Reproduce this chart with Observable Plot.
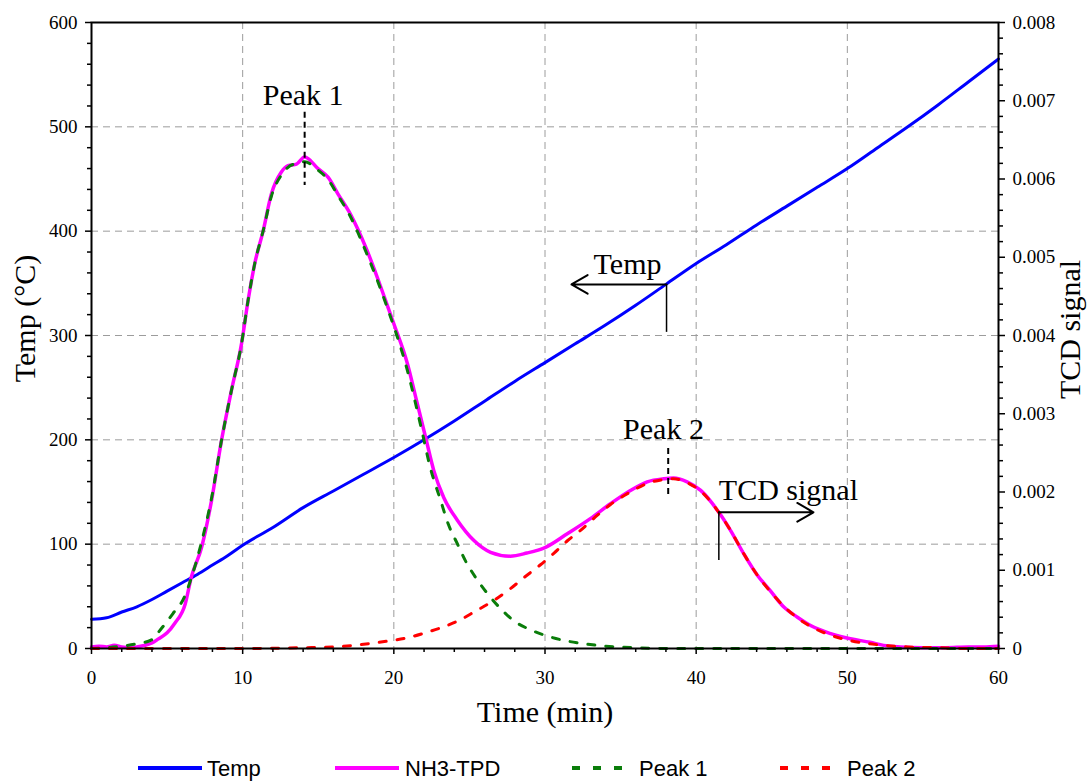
<!DOCTYPE html>
<html>
<head>
<meta charset="utf-8">
<script src="https://cdn.jsdelivr.net/npm/d3@7"></script>
<script src="https://cdn.jsdelivr.net/npm/@observablehq/plot@0.6"></script>
<style>
  html, body { margin: 0; padding: 0; background: #fff; overflow: hidden; }
  #chart svg, #legend svg { display: block; }
</style>
</head>
<body>
<div id="chart"></div>
<div id="legend"></div>
<script>
// Furnace temperature ramp (°C) against time (min)
const tempTime = [0, 1, 2, 3, 4, 5, 6, 7, 8, 9, 10, 12, 14, 16, 18, 20, 22, 24, 26, 28, 30,
  32, 34, 36, 38, 40, 42, 44, 46, 48, 50, 52, 54, 56, 58, 60];
const tempC = [28, 29.5, 35, 40, 47, 55, 63, 71, 80, 89, 99, 116, 135, 151, 167, 183, 200, 218, 237, 256, 274,
  292, 310, 329, 349, 369, 387, 406, 424, 442, 460, 480, 500, 521, 543, 565];

// Measured NH3-TPD TCD signal
const tpdTime = [0, 0.5, 1, 1.5, 2, 2.5, 3, 3.5, 4, 4.4, 5, 5.5, 6.2, 6.6, 7.28, 7.94, 8.6, 9.26, 9.92,
  10.36, 10.8, 11.36, 11.9, 12.56, 13, 13.56, 14.1, 15, 15.66, 16.3, 17.1, 18.2, 19.45, 20, 20.9, 21.5,
  22.1, 22.65, 23.3, 24.2, 25.3, 26.4, 27.7, 28.8, 30, 31.5, 33, 34.33, 35.65, 36.76, 37.86, 38.5, 39.4,
  40.3, 41.5, 42.27, 43.15, 44, 44.9, 45.8, 46.7, 47.6, 48.9, 50.2, 51.5, 52.4, 53.5, 55, 56.5, 58, 59, 60];
const tpdSignal = [0.00002, 0.00003, 0.00002, 0.00004, 0.00002, 0.00001, 0.00002, 0.00004, 0.00007, 0.00012,
  0.0002, 0.00032, 0.00057, 0.00091, 0.00129, 0.00189, 0.00266, 0.0033, 0.00389,
  0.00445, 0.00492, 0.00534, 0.00581, 0.00609, 0.00617, 0.00619, 0.00628, 0.00613, 0.00602, 0.00581, 0.00556,
  0.0051, 0.00445, 0.00415, 0.00364, 0.00317,
  0.0027, 0.00227, 0.00193, 0.00164, 0.00138, 0.00123, 0.00118, 0.00122, 0.00129, 0.00147, 0.00166, 0.00185,
  0.00202, 0.00213, 0.00217, 0.00218, 0.00213,
  0.00202, 0.00174, 0.00151, 0.00121, 0.00095, 0.00074, 0.00053, 0.0004, 0.00029, 0.00019, 0.000124, 0.00008,
  0.00004, 0.00002, 0.00001, 0.00001, 0.00002, 0.00002, 0.00003];

// Deconvoluted low-temperature peak
const peak1Time = [0, 1, 2, 3, 3.97, 4.56, 5.4, 6.15, 6.6, 7.28, 7.94, 8.6, 9.26, 9.92, 10.36, 10.8, 11.36,
  11.9, 12.56, 13, 13.56, 14.1, 15, 15.66, 16.3, 17.1, 18.2, 19.56, 20.9, 21.8, 22.4, 23.1, 23.6, 24.2,
  24.74, 25.4, 26.2, 27.06, 27.9, 29.15, 30.25, 31.5, 32.6, 34, 36, 38, 45, 52, 60];
const peak1Signal = [0, 0.00001, 0.00003, 0.00006, 0.00011, 0.00024, 0.00045, 0.00066, 0.0009, 0.00136,
  0.00192, 0.00266, 0.0033, 0.00389, 0.00445, 0.00492, 0.00534,
  0.00578, 0.00605, 0.00615, 0.0062, 0.00622, 0.00611, 0.00599, 0.00579, 0.00553, 0.00505, 0.00436, 0.00355,
  0.00283, 0.00232, 0.00189, 0.00159, 0.00134,
  0.00112, 0.00091, 0.0007, 0.00051, 0.00036, 0.00023, 0.000153, 0.000094, 0.00006, 0.00003, 0.00001, 0, 0, 0, 0];

// Deconvoluted high-temperature peak
const peak2Time = [0, 10, 14, 16, 17.35, 18.57, 19.8, 20.9, 22, 23.1, 24.3, 25.4, 26.6, 27.7, 28.7, 29.7,
  30.6, 31.5, 32.35, 33.45, 34.33, 35.65, 36.76, 37.86, 38.5, 39.4, 40.3, 41.5, 42.27, 43.15, 44, 44.9,
  45.8, 46.7, 47.6, 48.9, 50.2, 51.5, 52.4, 54, 56, 58, 60];
const peak2Signal = [0, 0, 0.00001, 0.00002, 0.00004, 0.000068, 0.0001, 0.000137, 0.000196, 0.000264,
  0.000358, 0.000477, 0.000613, 0.000763, 0.00092, 0.00107,
  0.00122, 0.00138, 0.00151, 0.0017, 0.00184, 0.002, 0.00211, 0.00216, 0.00217, 0.00212, 0.00201, 0.00174,
  0.00151, 0.00121, 0.00095, 0.00073,
  0.00054, 0.00039, 0.00028, 0.00017, 0.0001, 0.00006, 0.00004, 0.00002, 0.00001, 0, 0];

// Axis ticks
const timeTicks = [0, 10, 20, 30, 40, 50, 60];
const timeMinor = [2, 4, 6, 8, 12, 14, 16, 18, 22, 24, 26, 28, 32, 34, 36, 38, 42, 44, 46, 48, 52, 54, 56, 58];
const tempTicks = [0, 100, 200, 300, 400, 500, 600];
const tempMinor = [20, 40, 60, 80, 120, 140, 160, 180, 220, 240, 260, 280, 320, 340, 360, 380,
  420, 440, 460, 480, 520, 540, 560, 580];
const tcdTicks = [0, 0.001, 0.002, 0.003, 0.004, 0.005, 0.006, 0.007, 0.008];
const tcdMinor = [0.0002, 0.0004, 0.0006, 0.0008, 0.0012, 0.0014, 0.0016, 0.0018, 0.0022, 0.0024, 0.0026,
  0.0028, 0.0032, 0.0034, 0.0036, 0.0038, 0.0042, 0.0044, 0.0046, 0.0048, 0.0052, 0.0054, 0.0056, 0.0058,
  0.0062, 0.0064, 0.0066, 0.0068, 0.0072, 0.0074, 0.0076, 0.0078];

// Legend entries
const legendLabels = ["Temp", "NH3-TPD", "Peak 1", "Peak 2"];
const legendColors = ["#0000ff", "#ff00ff", "#0a7d0a", "#ff0000"];

// The TCD signal shares the temperature scale: 0.008 on the right maps to 600 °C on the left
const k = 600 / 0.008;
const zip = (xs, ys, scale = 1) => xs.map((t, i) => ({t, v: ys[i] * scale}));

const temp = zip(tempTime, tempC);
const tpd = zip(tpdTime, tpdSignal, k);
const p1 = zip(peak1Time, peak1Signal, k);
const p2 = zip(peak2Time, peak2Signal, k);

const serif = "'Liberation Serif', 'Times New Roman', serif";
const gridStyle = {stroke: "#9c9c9c", strokeOpacity: 1, strokeWidth: 1, strokeDasharray: "7,5"};
const tcdLabel = s => s === 0 ? "0" : s.toFixed(3);
const tickMark = {strokeWidth: 1.5, tickFormat: () => "", label: null};
const labelText = {fontFamily: serif, fontSize: 19, fill: "black"};

const chart = Plot.plot({
  width: 1088,
  height: 735,
  marginLeft: 91,
  marginRight: 90,
  marginTop: 22,
  marginBottom: 87,
  x: {domain: [0, 60]},
  y: {domain: [0, 600]},
  style: {fontFamily: serif, fontSize: "19px", color: "black", background: "white", overflow: "visible"},
  marks: [
    Plot.gridX(timeTicks.slice(1, -1), gridStyle),
    Plot.gridY(tempTicks.slice(1, -1), gridStyle),

    Plot.line(temp, {x: "t", y: "v", stroke: legendColors[0], strokeWidth: 3, curve: "monotone-x"}),
    Plot.line(tpd, {x: "t", y: "v", stroke: legendColors[1], strokeWidth: 3.5, curve: "monotone-x"}),
    Plot.line(p1, {x: "t", y: "v", stroke: legendColors[2], strokeWidth: 3, strokeDasharray: "7,11", curve: "monotone-x"}),
    Plot.line(p2, {x: "t", y: "v", stroke: legendColors[3], strokeWidth: 3, strokeDasharray: "7,11", curve: "monotone-x"}),

    // Peak markers
    Plot.ruleX([{x: 14.1, y1: 0.006853 * k, y2: 0.005917 * k}], {x: "x", y1: "y1", y2: "y2", stroke: "black", strokeWidth: 2, strokeDasharray: "6,4"}),
    Plot.text([{x: 14.0, y: 0.00707 * k}], {x: "x", y: "y", text: () => "Peak 1", fontSize: 30, fontFamily: serif}),
    Plot.ruleX([{x: 38.15, y1: 0.002556 * k, y2: 0.001929 * k}], {x: "x", y1: "y1", y2: "y2", stroke: "black", strokeWidth: 2, strokeDasharray: "6,4"}),
    Plot.text([{x: 37.84, y: 0.002803 * k}], {x: "x", y: "y", text: () => "Peak 2", fontSize: 30, fontFamily: serif}),

    // Curve-to-axis callouts
    Plot.ruleX([{x: 38.04, y1: 303, y2: 349}], {x: "x", y1: "y1", y2: "y2", stroke: "black", strokeWidth: 1.5}),
    Plot.arrow([{x1: 38.04, y1: 349, x2: 31.75, y2: 349}], {x1: "x1", y1: "y1", x2: "x2", y2: "y2", stroke: "black", strokeWidth: 2, headLength: 14}),
    Plot.text([{x: 35.46, y: 368.6}], {x: "x", y: "y", text: () => "Temp", fontSize: 30, fontFamily: serif}),
    Plot.ruleX([{x: 41.5, y1: 0.001124 * k, y2: 0.001741 * k}], {x: "x", y1: "y1", y2: "y2", stroke: "black", strokeWidth: 1.5}),
    Plot.arrow([{x1: 41.5, y1: 0.001741 * k, x2: 47.76, y2: 0.001741 * k}], {x1: "x1", y1: "y1", x2: "x2", y2: "y2", stroke: "black", strokeWidth: 2, headLength: 14}),
    Plot.text([{x: 41.5, y: 0.002015 * k}], {x: "x", y: "y", text: () => "TCD signal", textAnchor: "start", fontSize: 30, fontFamily: serif}),

    Plot.frame({stroke: "black", strokeWidth: 2}),

    // Outward major and minor tick marks
    Plot.axisX(timeTicks, {...tickMark, anchor: "bottom", tickSize: 6}),
    Plot.axisX(timeMinor, {...tickMark, anchor: "bottom", tickSize: 4}),
    Plot.axisY(tempTicks, {...tickMark, anchor: "left", tickSize: 6}),
    Plot.axisY(tempMinor, {...tickMark, anchor: "left", tickSize: 4}),
    Plot.axisY(tcdTicks.map(v => v * k), {...tickMark, anchor: "right", tickSize: 6}),
    Plot.axisY(tcdMinor.map(v => v * k), {...tickMark, anchor: "right", tickSize: 4}),

    // Tick labels
    Plot.text(timeTicks, {...labelText, x: d => d, frameAnchor: "bottom", lineAnchor: "top", textAnchor: "middle", dy: 22, text: d => String(d)}),
    Plot.text(tempTicks, {...labelText, y: d => d, frameAnchor: "left", lineAnchor: "middle", textAnchor: "end", dx: -14, text: d => String(d)}),
    Plot.text(tcdTicks, {...labelText, y: d => d * k, frameAnchor: "right", lineAnchor: "middle", textAnchor: "start", dx: 14, text: tcdLabel}),

    // Axis titles
    Plot.text(["Temp (°C)"], {frameAnchor: "left", textAnchor: "middle", lineAnchor: "middle", dx: -66, dy: -17, rotate: -90, fontSize: 30, fontFamily: serif}),
    Plot.text(["TCD signal"], {frameAnchor: "right", textAnchor: "middle", lineAnchor: "middle", dx: 72, dy: -6, rotate: -90, fontSize: 30, fontFamily: serif}),
    Plot.text(["Time (min)"], {frameAnchor: "bottom", textAnchor: "middle", lineAnchor: "middle", dy: 64, fontSize: 30, fontFamily: serif})
  ]
});
document.getElementById("chart").append(chart);

// Legend row below the plot
const legendItems = [
  {x0: 138, x1: 202, tx: 207, dash: null},
  {x0: 335, x1: 399, tx: 405, dash: null},
  {x0: 572, x1: 622, tx: 639, dash: "8,13"},
  {x0: 780, x1: 830, tx: 847, dash: "8,13"}
];
const legend = d3.select("#legend").append("svg")
  .attr("width", 1088).attr("height", 47)
  .style("background", "white");
legendItems.forEach((d, i) => {
  legend.append("line")
    .attr("x1", d.x0).attr("x2", d.x1).attr("y1", 33).attr("y2", 33)
    .attr("stroke", legendColors[i]).attr("stroke-width", 4)
    .attr("stroke-dasharray", d.dash);
  legend.append("text")
    .attr("x", d.tx).attr("y", 41)
    .attr("font-family", "'Liberation Sans', Arial, sans-serif")
    .attr("font-size", 22)
    .attr("fill", "black")
    .text(legendLabels[i]);
});
</script>
</body>
</html>
